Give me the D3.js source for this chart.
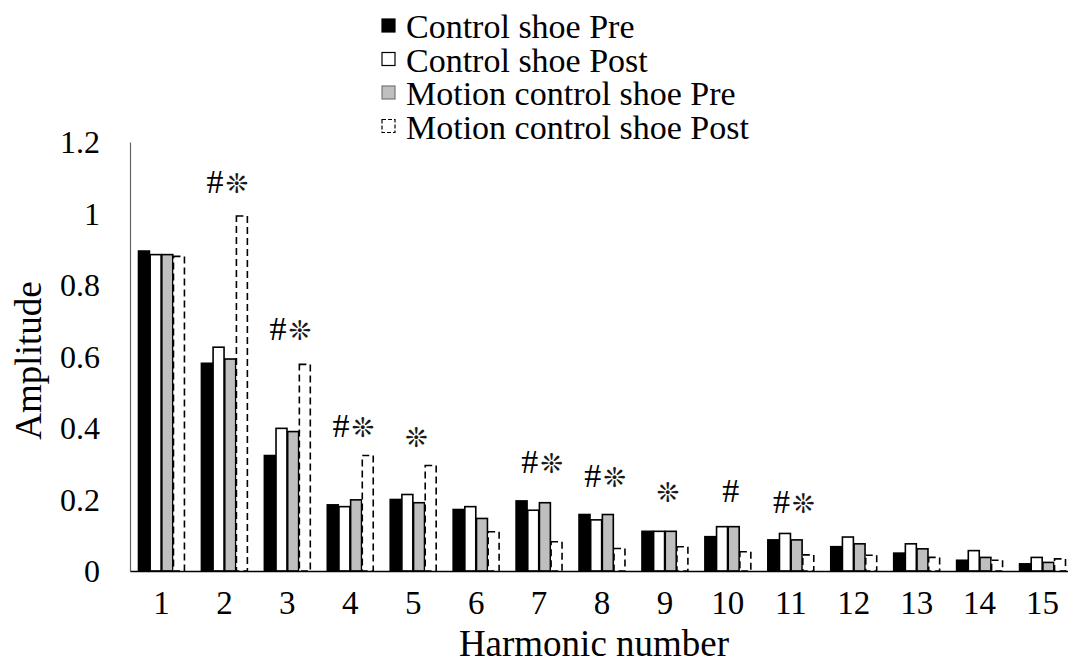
<!DOCTYPE html>
<html>
<head>
<meta charset="utf-8">
<script src="https://cdn.jsdelivr.net/npm/d3@7/dist/d3.min.js"></script>
<style>
  html, body { margin: 0; padding: 0; background: #fff; }
  svg { display: block; }
  text { font-family: "Liberation Serif", "Times New Roman", serif; fill: #000; }
</style>
</head>
<body>
<svg id="chart" width="1068" height="666"></svg>
<script>
// ---- data ----
const harmonics = ["1","2","3","4","5","6","7","8","9","10","11","12","13","14","15"];
const seriesNames = ["Control shoe Pre", "Control shoe Post", "Motion control shoe Pre", "Motion control shoe Post"];
const controlPre   = [0.895, 0.581, 0.323, 0.185, 0.200, 0.172, 0.196, 0.158, 0.111, 0.096, 0.087, 0.068, 0.050, 0.030, 0.020];
const controlPost  = [0.885, 0.626, 0.399, 0.180, 0.214, 0.180, 0.170, 0.143, 0.111, 0.124, 0.105, 0.095, 0.076, 0.057, 0.038];
const motionPre    = [0.885, 0.593, 0.390, 0.199, 0.191, 0.147, 0.191, 0.158, 0.111, 0.124, 0.087, 0.076, 0.062, 0.038, 0.024];
const motionPost   = [0.880, 0.993, 0.578, 0.323, 0.295, 0.110, 0.082, 0.063, 0.068, 0.054, 0.045, 0.044, 0.038, 0.030, 0.034];
const yTicks = [0, 0.2, 0.4, 0.6, 0.8, 1, 1.2];
const hashMarks = ["", "#", "#", "#", "", "", "#", "#", "", "#", "#", "", "", "", ""];
const starMarks = ["", "❊", "❊", "❊", "❊", "", "❊", "❊", "❊", "", "❊", "", "", "", ""];
const markLevel = [null, 1.057, 0.646, 0.375, 0.347, null, 0.274, 0.235, 0.193, 0.193, 0.162, null, null, null, null];

const seriesValues = [controlPre, controlPost, motionPre, motionPost];
const seriesStyle = [
  { fill: "#000000", stroke: "#000000", dash: null },
  { fill: "#ffffff", stroke: "#000000", dash: null },
  { fill: "#bfbfbf", stroke: "#000000", dash: null },
  { fill: "#ffffff", stroke: "#000000", dash: "7,4" }
];

// ---- layout ----
const svg = d3.select("#chart");
const plot = { left: 130, right: 1074, top: 142, bottom: 571 };

const x0 = d3.scaleBand().domain(harmonics).range([plot.left, plot.right])
  .paddingInner(0.27).paddingOuter(0.135);
const x1 = d3.scaleBand().domain(d3.range(seriesNames.length)).range([0, x0.bandwidth()])
  .paddingInner(0.06);
const y = d3.scaleLinear().domain([0, 1.2]).range([plot.bottom, plot.top]);

// bars
const groups = svg.append("g").selectAll("g")
  .data(harmonics).join("g")
  .attr("transform", d => `translate(${x0(d)},0)`);

groups.selectAll("rect")
  .data((h, i) => seriesValues.map((vals, s) => ({ s, v: vals[i] })))
  .join("rect")
  .attr("x", d => x1(d.s))
  .attr("width", x1.bandwidth())
  .attr("y", d => y(d.v))
  .attr("height", d => y(0) - y(d.v))
  .attr("fill", d => seriesStyle[d.s].fill)
  .attr("stroke", d => seriesStyle[d.s].stroke)
  .attr("stroke-width", 1.6)
  .attr("stroke-dasharray", d => seriesStyle[d.s].dash);

// y axis
const yAxis = svg.append("g")
  .attr("transform", `translate(${plot.left},0)`)
  .call(d3.axisLeft(y).tickValues(yTicks).tickFormat(d3.format("~g")).tickSize(0).tickPadding(30));
yAxis.select(".domain").attr("stroke", "#666").attr("stroke-width", 1.2);
yAxis.selectAll("text").attr("font-size", 32).style("font-family", "Liberation Serif").attr("dy", "0.34em");

// x axis
const xAxis = svg.append("g")
  .attr("transform", `translate(0,${plot.bottom})`)
  .call(d3.axisBottom(x0).tickSize(0).tickPadding(20).tickSizeOuter(0));
xAxis.select(".domain").attr("stroke", "#000").attr("stroke-width", 1.6);
xAxis.selectAll("text").attr("font-size", 33).style("font-family", "Liberation Serif");

// axis titles
svg.append("text")
  .attr("x", 594).attr("y", 656)
  .attr("text-anchor", "middle")
  .attr("font-size", 37)
  .text("Harmonic number");

svg.append("text")
  .attr("transform", `translate(41,${(plot.top + plot.bottom) / 2 + 4}) rotate(-90)`)
  .attr("text-anchor", "middle")
  .attr("font-size", 37)
  .text("Amplitude");

// significance marks
const marks = svg.append("g");
harmonics.forEach((h, i) => {
  if (markLevel[i] == null) return;
  const t = marks.append("text")
    .attr("x", x0(h) + x0.bandwidth() / 2 + 3)
    .attr("y", y(markLevel[i]))
    .attr("text-anchor", "middle")
    .attr("font-size", 34);
  if (hashMarks[i]) t.append("tspan").text(hashMarks[i]);
  if (hashMarks[i] && starMarks[i]) t.append("tspan").text(" ").attr("font-size", 8);
  if (starMarks[i]) t.append("tspan").text(starMarks[i])
    .style("font-family", "DejaVu Sans").attr("font-size", 27).attr("fill", "#1a1a1a");
});

// legend
const legend = svg.append("g").attr("transform", "translate(381,0)");
const legItems = legend.selectAll("g").data(seriesNames).join("g")
  .attr("transform", (d, i) => `translate(0,${26 + i * 33.5})`);
legItems.append("rect")
  .attr("x", 1).attr("y", -7).attr("width", 13).attr("height", 13)
  .attr("fill", (d, i) => seriesStyle[i].fill)
  .attr("stroke", (d, i) => i === 2 ? "#777" : "#000")
  .attr("stroke-width", 1.2)
  .attr("stroke-dasharray", (d, i) => seriesStyle[i].dash ? "4,2" : null);
legItems.append("text")
  .attr("x", 25).attr("y", 12)
  .attr("font-size", 34)
  .text(d => d);
</script>
</body>
</html>
